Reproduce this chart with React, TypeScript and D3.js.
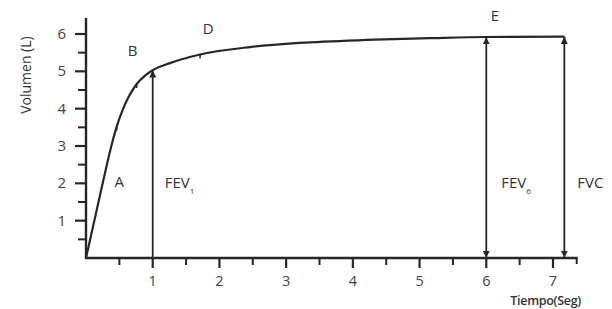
import { useMemo } from 'react'
import * as d3 from 'd3'

// curva volumen-tiempo (seg, litros)
const tiempo = [0, 0.1, 0.2, 0.3, 0.38, 0.46, 0.55, 0.65, 0.76, 0.88, 1.0, 1.26, 1.71, 2.46, 3.2, 4.2, 5.2, 6.0, 7.17]
const volumen = [0, 0.8, 1.6, 2.4, 3.0, 3.52, 3.97, 4.35, 4.66, 4.88, 5.03, 5.22, 5.45, 5.65, 5.76, 5.84, 5.89, 5.92, 5.93]
const xTicks = [1, 2, 3, 4, 5, 6, 7]
const xMinor = [0.5, 1.5, 2.5, 3.5, 4.5, 5.5, 6.5]
const yTicks = [1, 2, 3, 4, 5, 6]
const yMinor = [0.5, 1.5, 2.5, 3.5, 4.5, 5.5]
// puntos marcados sobre la curva
const marcas = [0.46, 0.76, 1.71]
const letras = [
  { t: 0.5, v: 1.9, s: 'A' },
  { t: 0.7, v: 5.4, s: 'B' },
  { t: 1.83, v: 6.0, s: 'D' },
  { t: 6.13, v: 6.35, s: 'E' },
]
const FEV1_T = 1
const FEV6_T = 6
const FVC_T = 7.17

const W = 612, H = 309
const ink = '#262626'
const font = "'Open Sans', 'Noto Sans', sans-serif"

export default function App() {
  const x = useMemo(() => d3.scaleLinear().domain([0, 7]).range([86, 553]), [])
  const y = useMemo(() => d3.scaleLinear().domain([0, 6]).range([258, 34]), [])
  const data = tiempo.map((t, i) => [t, volumen[i]] as [number, number])
  const line = d3.line<[number, number]>().x(d => x(d[0])).y(d => y(d[1])).curve(d3.curveMonotoneX)
  const vAt = (t: number) => {
    const i = d3.bisector((d: [number, number]) => d[0]).left(data, t)
    if (i <= 0) return data[0][1]
    if (i >= data.length) return data[data.length - 1][1]
    const a = data[i - 1], b = data[i]
    return a[1] + (b[1] - a[1]) * (t - a[0]) / (b[0] - a[0])
  }
  const x0 = x(0), y0 = y(0)
  const xEnd = x(7.37), yTop = y(6.43)

  return (
    <svg width={W} height={H} style={{ position: 'absolute', left: 0, top: 0, background: '#fff' }} fontFamily={font}>
      <defs>
        <marker id="ah" viewBox="0 0 10 10" refX="9" refY="5" markerWidth="7" markerHeight="7" markerUnits="userSpaceOnUse" orient="auto-start-reverse">
          <path d="M0,0 L10,5 L0,10 z" fill={ink} />
        </marker>
      </defs>

      {/* ejes */}
      <line x1={x0} y1={yTop} x2={x0} y2={y0 + 1} stroke={ink} strokeWidth={2.4} />
      <line x1={x0 - 1} y1={y0} x2={xEnd} y2={y0} stroke={ink} strokeWidth={2.4} />
      {yTicks.map(v => (
        <g key={'y' + v}>
          <line x1={x0 - 11} x2={x0} y1={y(v)} y2={y(v)} stroke={ink} strokeWidth={2.2} />
          <text x={x0 - 20} y={y(v) + 5} textAnchor="end" fontSize={15} fill="#444">{v}</text>
        </g>
      ))}
      {yMinor.map(v => (
        <line key={'ym' + v} x1={x0 - 8} x2={x0} y1={y(v)} y2={y(v)} stroke={ink} strokeWidth={2} />
      ))}
      {xTicks.map(t => (
        <g key={'x' + t}>
          <line x1={x(t)} x2={x(t)} y1={y0} y2={y0 + 10} stroke={ink} strokeWidth={2.2} />
          <text x={x(t)} y={y0 + 28} textAnchor="middle" fontSize={14.5} fill="#444">{t}</text>
        </g>
      ))}
      {xMinor.map(t => (
        <line key={'xm' + t} x1={x(t)} x2={x(t)} y1={y0} y2={y0 + 7} stroke={ink} strokeWidth={2} />
      ))}
      <line x1={xEnd - 1} x2={xEnd - 1} y1={y0} y2={y0 + 6} stroke={ink} strokeWidth={2} />

      <text transform={`translate(31,${y(4.9)}) rotate(-90)`} textAnchor="middle" fontSize={14} fill="#333">Volumen (L)</text>
      <text x={581} y={305} textAnchor="end" fontSize={12.5} fontWeight={600} fill="#333" letterSpacing={-0.3}>Tiempo(Seg)</text>

      {/* curva */}
      <path d={line(data) ?? ''} fill="none" stroke={ink} strokeWidth={2.2} />
      <line x1={x(FVC_T)} x2={x(FVC_T)} y1={y(vAt(FVC_T))} y2={y(vAt(FVC_T)) + 2} stroke={ink} strokeWidth={2} />
      {marcas.map(t => (
        <line key={'m' + t} x1={x(t)} x2={x(t)} y1={y(vAt(t))} y2={y(vAt(t)) + 4} stroke={ink} strokeWidth={1.5} />
      ))}
      {letras.map(l => (
        <text key={l.s} x={x(l.t)} y={y(l.v)} textAnchor="middle" fontSize={15} fill="#333">{l.s}</text>
      ))}

      {/* flechas */}
      <line x1={x(FEV1_T)} x2={x(FEV1_T)} y1={y0} y2={y(vAt(FEV1_T)) + 1} stroke={ink} strokeWidth={1.8} markerEnd="url(#ah)" />
      <line x1={x(FEV6_T)} x2={x(FEV6_T)} y1={y0 - 1} y2={y(vAt(FEV6_T)) + 1} stroke={ink} strokeWidth={1.8} markerStart="url(#ah)" markerEnd="url(#ah)" />
      <line x1={x(FVC_T)} x2={x(FVC_T)} y1={y0 - 1} y2={y(vAt(FVC_T)) + 1} stroke={ink} strokeWidth={1.8} markerStart="url(#ah)" markerEnd="url(#ah)" />

      <text x={x(FEV1_T) + 12} y={y(2) + 5} fontSize={15} fill="#333">FEV<tspan fontSize={8} dy={6}>1</tspan></text>
      <text x={x(FEV6_T) + 15} y={y(2) + 5} fontSize={15} fill="#333">FEV<tspan fontSize={8} dy={6}>6</tspan></text>
      <text x={x(FVC_T) + 13} y={y(2) + 5} fontSize={15} fill="#333">FVC</text>
    </svg>
  )
}
